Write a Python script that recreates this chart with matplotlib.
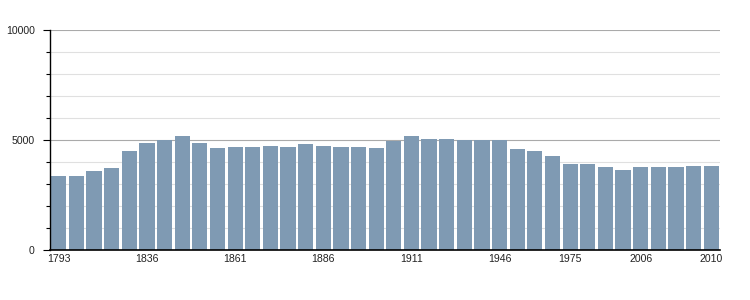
import matplotlib
matplotlib.use('Agg')
import matplotlib.pyplot as plt
from matplotlib.ticker import MultipleLocator

plt.rcParams['font.family'] = ['Liberation Sans', 'DejaVu Sans']

years = [1793, 1800, 1806, 1821, 1831, 1836, 1841, 1846, 1851, 1856,
         1861, 1866, 1872, 1876, 1881, 1886, 1891, 1896, 1901, 1906,
         1911, 1921, 1926, 1931, 1936, 1946, 1954, 1962, 1968, 1975,
         1982, 1990, 1999, 2006, 2007, 2008, 2009, 2010]
population = [3364, 3364, 3591, 3727, 4500, 4864, 5000, 5182, 4864, 4636,
              4682, 4682, 4727, 4682, 4818, 4727, 4682, 4682, 4636, 4955,
              5182, 5045, 5045, 5000, 5000, 5000, 4591, 4500, 4273, 3909,
              3909, 3773, 3636, 3773, 3773, 3773, 3818, 3818]
label_years = [1793, 1836, 1861, 1886, 1911, 1946, 1975, 2006, 2010]

fig = plt.figure(figsize=(7.5, 3), dpi=100)
ax = fig.add_axes([50 / 750, 50 / 300, 670 / 750, 220 / 300])

x = list(range(len(years)))
ax.bar(x, population, width=0.86, color='#7f9ab3', zorder=3)

ax.set_xlim(-0.5, len(years) - 0.5)
ax.set_ylim(0, 10000)

ax.yaxis.set_major_locator(MultipleLocator(5000))
ax.yaxis.set_minor_locator(MultipleLocator(1000))
ax.grid(axis='y', which='minor', color='#e0e0e0', linewidth=0.8, zorder=0)
ax.grid(axis='y', which='major', color='#aaaaaa', linewidth=0.8, zorder=1)
ax.set_yticks([0, 5000, 10000])
ax.set_yticklabels(['0', '5000', '10000'])

tick_pos = [years.index(y) for y in label_years]
ax.set_xticks(tick_pos)
ax.set_xticklabels([str(y) for y in label_years])

ax.tick_params(axis='x', length=0, pad=3, labelsize=7.6, labelcolor='#222222')
ax.tick_params(axis='y', which='major', length=5, width=0.8, pad=6, labelsize=7.6, labelcolor='#222222')
ax.tick_params(axis='y', which='minor', length=3, width=0.8)

for s in ['top', 'right']:
    ax.spines[s].set_visible(False)
ax.spines['left'].set_linewidth(1)
ax.spines['bottom'].set_linewidth(1.2)
ax.spines['left'].set_zorder(4)
ax.spines['bottom'].set_zorder(4)

fig.savefig('out.png', dpi=100)
